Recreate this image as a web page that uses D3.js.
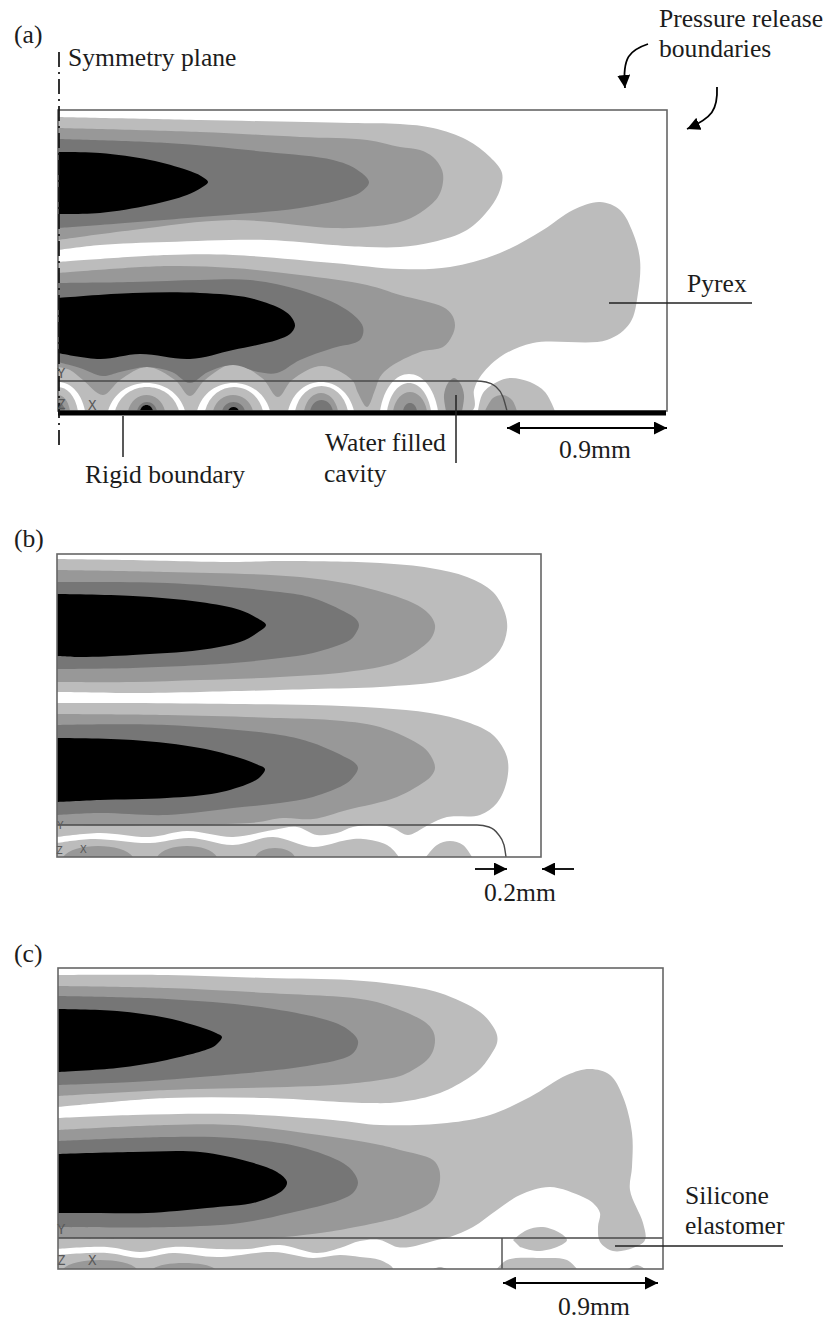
<!DOCTYPE html>
<html lang="en">
<head>
<meta charset="UTF-8">
<title>Pressure contours in the three chip models</title>
<style>
    html, body { margin: 0; padding: 0; background: #fff; }
    svg { display: block; }
    text { font-family: "Liberation Serif", serif; font-size: 25.6px; fill: #1c1c1c; }
    text.axis { font-family: "DejaVu Sans Mono", monospace; font-size: 14px; fill: #5a5a5a; }
    text.axis-small { font-family: "DejaVu Sans Mono", monospace; font-size: 11px; fill: #5a5a5a; }
</style>
</head>
<body>
<svg id="fig" width="827" height="1320"></svg>
<script src="https://d3js.org/d3.v7.min.js"></script>
<script>
// contour outlines: [distance from symmetry plane, height above base]

// panel (a)
const aUpperLight = [[0,294],[142,291],[292,288],[342,287],[375,283],[409,271],[432,254],[444,238],[442,221],[432,203],[409,181],[375,169],[342,164],[309,164],[275,166],[209,171],[109,169],[42,166],[0,161]];
const aUpperMid = [[0,283],[142,279],[242,274],[309,271],[342,264],[362,261],[375,254],[384,241],[385,229],[380,214],[362,198],[342,189],[309,184],[275,183],[175,191],[75,181],[0,171]];
const aUpperDark = [[0,272],[109,268],[209,259],[275,251],[298,242],[311,229],[303,219],[292,214],[242,203],[142,194],[42,186],[0,183]];
const aUpperBlack = [[0,259],[42,258],[92,251],[129,241],[143,235],[150,229],[143,223],[129,216],[92,206],[42,198],[0,197]];
const aLowerLight = [[0,149],[109,156],[175,156],[275,148],[342,142],[392,144],[442,158],[485,181],[515,201],[542,209],[562,201],[575,178],[582,151],[580,118],[572,88],[549,71],[475,68],[442,54],[422,34],[416,21],[414,0],[0,0]];
const aLowerMid = [[0,138],[109,145],[175,143],[242,136],[309,126],[342,116],[385,104],[394,96],[397,86],[394,75],[385,64],[362,59],[332,44],[322,34],[317,21],[309,4],[300,18],[294,31],[264,45],[234,31],[220,14],[204,33],[175,47],[147,31],[132,15],[117,31],[89,44],[62,31],[45,16],[25,31],[12,41],[0,44]];
const aLowerDark = [[0,128],[75,129],[142,131],[192,131],[242,121],[289,101],[305,84],[302,71],[275,63],[242,51],[219,38],[200,39],[175,46],[150,39],[132,28],[114,39],[89,44],[62,39],[45,35],[22,43],[0,49]];
const aLowerBlack = [[0,113],[75,118],[142,118],[192,113],[225,101],[234,93],[237,85],[232,77],[219,71],[175,61],[132,52],[82,57],[42,52],[0,58]];
const aBlobMid = [[388,0],[386,16],[390,28],[396,33],[402,28],[406,16],[404,0]];
const aSideLight = [[420,0],[425,18],[439,29],[452,33],[472,29],[487,19],[497,0]];
const aSideMid = [[427,0],[435,13],[445,16],[454,11],[459,0]];
// standing wave arches in the cavity: [left, right, top]
const aArchWhite = [[-27,27,29],[50,127,28],[139,212,28],[230,296,29],[322,380,37]];
const aArchLight = [[-20,20,24],[57,121,24],[147,205,24],[237,290,25],[329,373,28]];
const aArchMid = [[-12,12,16],[70,107,16],[155,195,16],[246,280,18],[335,369,19]];
const aArchDark = [[-7,7,9],[79,99,9],[164,187,9],[252,275,11],[345,359,8]];
const aArchBlack = [[82,95,6],[170,181,4]];
const aCavity = [[0,30],[418,30],[428,29],[437,25],[445,14],[449,0]];

// panel (b)
const bUpperLight = [[0,298],[70,297],[176,295],[223,296],[323,294],[373,289],[410,280],[436,265],[448,244],[450,227],[443,207],[423,189],[390,177],[323,170],[256,168],[143,165],[76,164],[0,165]];
const bUpperMid = [[0,287],[110,285],[243,280],[306,270],[356,254],[372,243],[378,232],[376,222],[370,214],[340,195],[290,185],[223,180],[143,177],[76,175],[0,175]];
const bUpperDark = [[0,275],[110,274],[223,265],[256,259],[290,244],[299,238],[302,232],[299,224],[293,217],[256,204],[223,199],[176,194],[76,189],[0,188]];
const bUpperBlack = [[0,263],[76,261],[143,255],[183,247],[200,239],[209,232],[200,224],[183,215],[143,207],[76,202],[23,200],[0,201]];
const bLowerLight = [[0,154],[76,154],[176,153],[256,152],[323,149],[373,144],[410,135],[436,122],[450,100],[450,77],[440,54],[423,42],[390,40],[373,33],[366,29],[351,22],[336,29],[323,32],[296,30],[280,24],[260,22],[240,30],[216,27],[176,20],[130,26],[93,20],[43,24],[0,20]];
const bLowerMid = [[0,143],[110,142],[223,139],[273,137],[323,130],[366,110],[375,99],[378,89],[375,82],[370,77],[340,60],[290,47],[256,38],[226,39],[193,34],[0,32]];
const bLowerDark = [[0,132],[110,132],[223,122],[256,114],[290,99],[298,94],[301,89],[297,81],[290,74],[256,60],[223,54],[176,49],[110,42],[43,44],[0,42]];
const bLowerBlack = [[0,119],[76,117],[143,109],[183,99],[199,93],[208,88],[203,80],[193,74],[160,64],[110,59],[43,57],[0,55]];
const bWaveLight = [[0,14],[36,18],[93,14],[133,19],[176,12],[216,20],[256,10],[290,17],[306,18],[330,12],[341,1],[341,0],[0,0]];
const bSideLight = [[369,0],[380,12],[393,16],[406,12],[415,0]];
const bArchMid = [[6,76,11],[100,160,11],[198,238,9]];
const bCavity = [[0,32],[420,32],[432,30],[441,23],[447,12],[449,0]];

// panel (c)
const cUpperLight = [[0,294],[109,294],[209,291],[292,289],[342,284],[382,276],[422,257],[434,244],[439,234],[439,226],[434,216],[424,202],[412,192],[382,176],[342,167],[309,166],[209,171],[109,171],[0,162]];
const cUpperMid = [[0,283],[109,281],[209,276],[309,269],[342,259],[367,247],[375,238],[377,229],[375,218],[369,209],[345,194],[322,189],[275,184],[109,179],[0,173]];
const cUpperDark = [[0,273],[109,270],[209,261],[275,247],[292,238],[300,228],[297,218],[289,212],[242,202],[142,192],[75,187],[0,184]];
const cUpperBlack = [[0,260],[59,258],[109,251],[145,241],[158,236],[164,232],[160,226],[155,222],[109,209],[59,201],[0,197]];
const cLowerLight = [[0,151],[75,154],[175,155],[275,149],[322,144],[389,146],[432,154],[472,172],[509,194],[532,200],[552,194],[565,172],[574,136],[574,102],[572,79],[585,46],[587,29],[575,21],[555,18],[542,27],[540,42],[542,56],[535,66],[525,72],[492,82],[462,74],[439,59],[415,42],[392,32],[379,29],[352,22],[339,22],[322,29],[302,28],[282,21],[259,16],[222,24],[189,20],[159,20],[115,22],[82,17],[49,22],[0,20]];
const cLowerMid = [[0,139],[109,144],[175,144],[275,132],[322,124],[342,119],[375,109],[381,100],[382,89],[379,77],[372,66],[342,52],[322,47],[282,39],[269,37],[212,31],[0,31]];
const cLowerDark = [[0,128],[109,132],[175,131],[242,122],[285,106],[296,96],[300,86],[295,76],[282,69],[232,56],[182,46],[115,42],[0,42]];
const cLowerBlack = [[0,115],[75,117],[142,117],[192,107],[219,97],[229,87],[225,79],[199,67],[149,61],[89,56],[42,56],[0,56]];
const cWaveLight = [[0,14],[49,16],[82,11],[115,16],[159,12],[215,17],[255,11],[282,14],[302,12],[322,9],[335,0],[0,0]];
const cBlobLight = [[455,29],[469,39],[485,42],[502,36],[509,29],[499,22],[479,18],[462,22]];
const cBaseLight = [[439,0],[449,9],[482,11],[509,9],[519,0]];
const cTipRight = [[570,0],[579,4],[587,0]];
const cTipLeft = [[375,0],[382,2],[389,0]];
const cArchMid = [[5,79,9],[95,157,6]];
const cCavity = [[0,31],[605,31]];
const cCavityEnd = [[444,0],[444,31]];

const LIGHT = "#bcbcbc", MID = "#989898", DARK = "#767676", BLACK = "#000";
const svg = d3.select("#fig");

const defs = svg.append("defs");
defs.append("marker")
    .attr("id", "head")
    .attr("viewBox", "0 -6.5 13 13")
    .attr("refX", 13)
    .attr("refY", 0)
    .attr("orient", "auto-start-reverse")
    .attr("markerUnits", "userSpaceOnUse")
    .attr("markerWidth", 13)
    .attr("markerHeight", 13)
    .append("path")
    .attr("d", "M0,-6.5L13,0L0,6.5Z")
    .attr("fill", "#000");

function makePanel(id, left, base, width, height) {
    const x = d3.scaleLinear().domain([0, width]).range([left, left + width]);
    const y = d3.scaleLinear().domain([0, height]).range([base, base - height]);
    defs.append("clipPath").attr("id", "clip-" + id)
        .append("rect")
        .attr("x", left).attr("y", base - height)
        .attr("width", width).attr("height", height);
    const g = svg.append("g").attr("clip-path", `url(#clip-${id})`);
    const outline = d3.line().x(d => x(d[0])).y(d => y(d[1])).curve(d3.curveCatmullRom.alpha(0.5));
    const smooth = d3.line().x(d => x(d[0])).y(d => y(d[1])).curve(d3.curveMonotoneX);

    const fillShapes = (shapes, colour) => {
        g.selectAll(null).data(shapes).enter().append("path")
            .attr("d", d => outline(d) + "Z")
            .attr("fill", colour);
    };
    // arches are closer to a parabola than an ellipse
    const fillArches = (arches, colour) => {
        g.selectAll(null).data(arches).enter().append("path")
            .attr("d", d => {
                const w = x(d[1]) - x(d[0]);
                const c = y(0) - (y(0) - y(d[2])) * 4 / 3;
                return `M${x(d[0])},${y(0)}C${x(d[0]) + w * 0.14},${c} ${x(d[1]) - w * 0.14},${c} ${x(d[1])},${y(0)}Z`;
            })
            .attr("fill", colour);
    };
    const edge = (pts, w) => {
        g.append("path").attr("d", smooth(pts))
            .attr("fill", "none").attr("stroke", "#4a4a4a").attr("stroke-width", w || 1.4);
    };
    const frame = () => {
        svg.append("rect")
            .attr("x", left).attr("y", base - height)
            .attr("width", width).attr("height", height)
            .attr("fill", "none").attr("stroke", "#666").attr("stroke-width", 1.6);
    };
    return { x, y, fillShapes, fillArches, edge, frame };
}

function label(str, x, y, cls) {
    svg.append("text").attr("x", x).attr("y", y).attr("class", cls || null).text(str);
}

function leader(x1, y1, x2, y2) {
    svg.append("line").attr("x1", x1).attr("y1", y1).attr("x2", x2).attr("y2", y2)
        .attr("stroke", "#222").attr("stroke-width", 1.5);
}

function arrow(x1, x2, y, both) {
    const l = svg.append("line").attr("x1", x1).attr("y1", y).attr("x2", x2).attr("y2", y)
        .attr("stroke", "#000").attr("stroke-width", 1.8)
        .attr("marker-end", "url(#head)");
    if (both) l.attr("marker-start", "url(#head)");
}

// (a)
const pa = makePanel("a", 58, 411, 609, 301);
pa.fillShapes([aUpperLight, aLowerLight, aSideLight], LIGHT);
pa.fillShapes([aUpperMid, aLowerMid, aSideMid], MID);
pa.fillShapes([aUpperDark, aLowerDark], DARK);
pa.fillShapes([aUpperBlack, aLowerBlack], BLACK);
pa.fillArches(aArchWhite, "#fff");
pa.fillArches(aArchLight, LIGHT);
pa.fillArches(aArchMid, MID);
pa.fillArches(aArchDark, DARK);
pa.fillArches(aArchBlack, BLACK);
pa.fillShapes([aBlobMid], "#8e8e8e");
pa.edge(aCavity);
pa.frame();

svg.append("line").attr("x1", pa.x(0)).attr("x2", 666).attr("y1", 413).attr("y2", 413)
    .attr("stroke", "#000").attr("stroke-width", 5);
svg.append("line").attr("x1", 59).attr("x2", 59).attr("y1", 52).attr("y2", 448)
    .attr("stroke", "#111").attr("stroke-width", 1.7)
    .attr("stroke-dasharray", "15 5 2 5");

label("(a)", 14, 43);
label("Symmetry plane", 68, 66);
label("Pressure release", 659, 27);
label("boundaries", 659, 57);
label("Pyrex", 687, 292);
label("Rigid boundary", 85, 483);
label("Water filled", 325, 451);
label("cavity", 324, 482);
label("0.9mm", 559, 458);
label("Y", 57, 378, "axis");
label("Z", 57, 409, "axis");
label("X", 88, 410, "axis");
leader(609, 303, 752, 303);
leader(123, 416, 123, 457);
leader(456, 395, 456, 463);
arrow(507, 667, 428, true);

// curved arrows at the pressure release boundaries
const curvedA = d3.path();
curvedA.moveTo(648, 44);
curvedA.bezierCurveTo(630, 50, 622, 57, 625, 88);
const curvedB = d3.path();
curvedB.moveTo(717, 87);
curvedB.bezierCurveTo(718, 110, 712, 118, 687, 129);
svg.selectAll(null).data([curvedA, curvedB]).enter().append("path")
    .attr("d", d => d.toString())
    .attr("fill", "none").attr("stroke", "#000").attr("stroke-width", 1.8)
    .attr("marker-end", "url(#head)");

// (b)
const pb = makePanel("b", 57, 857, 484, 303);
pb.fillShapes([bUpperLight, bLowerLight, bWaveLight, bSideLight], LIGHT);
pb.fillShapes([bUpperMid, bLowerMid], MID);
pb.fillShapes([bUpperDark, bLowerDark], DARK);
pb.fillShapes([bUpperBlack, bLowerBlack], BLACK);
pb.fillArches(bArchMid, MID);
pb.edge(bCavity);
pb.frame();

label("(b)", 14, 547);
label("0.2mm", 484, 901);
label("Y", 57, 829, "axis-small");
label("Z", 56, 854, "axis-small");
label("X", 80, 853, "axis-small");
arrow(475, 507, 869);
arrow(574, 542, 869);

// (c)
const pc = makePanel("c", 58, 1269, 605, 301);
pc.fillShapes([cUpperLight, cLowerLight, cWaveLight, cBlobLight, cBaseLight, cTipRight, cTipLeft], LIGHT);
pc.fillShapes([cUpperMid, cLowerMid], MID);
pc.fillShapes([cUpperDark, cLowerDark], DARK);
pc.fillShapes([cUpperBlack, cLowerBlack], BLACK);
pc.fillArches(cArchMid, MID);
pc.edge(cCavity);
pc.edge(cCavityEnd);
pc.frame();

label("(c)", 14, 962);
label("Silicone", 685, 1204);
label("elastomer", 685, 1234);
label("0.9mm", 558, 1315);
label("Y", 57, 1234, "axis");
label("Z", 57, 1265, "axis");
label("X", 88, 1265, "axis");
leader(615, 1246, 783, 1246);
arrow(503, 658, 1283, true);
</script>
</body>
</html>
